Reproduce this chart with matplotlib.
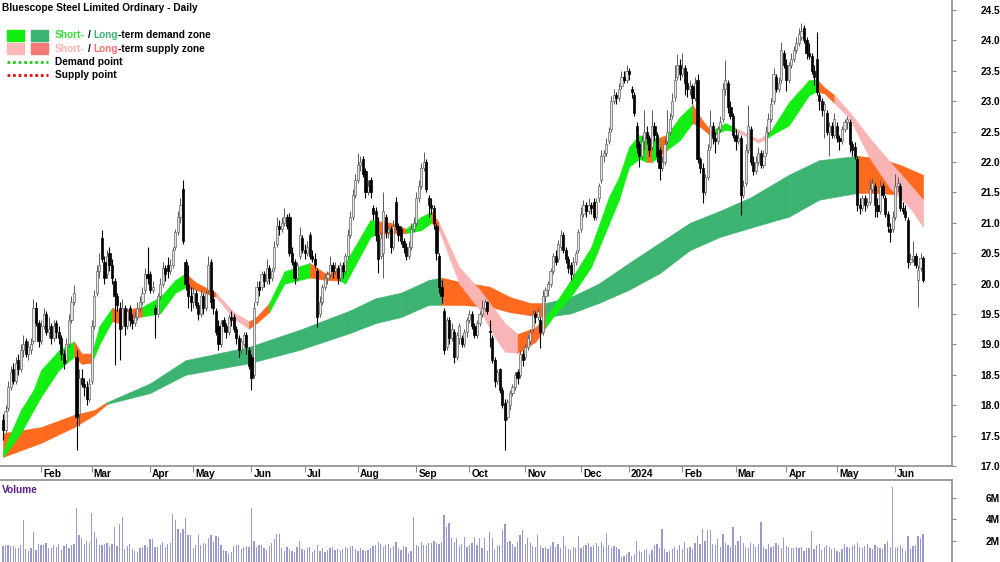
import numpy as np
import pandas as pd
import matplotlib
matplotlib.use("Agg")
import matplotlib.pyplot as plt
from matplotlib.patches import Rectangle
from matplotlib.lines import Line2D

plt.rcParams['font.family'] = ['Liberation Sans', 'DejaVu Sans']
plt.rcParams['font.weight'] = 'bold'

# ---- daily bars (A$), 10 Jan 2023 .. 19 Jun 2024 ----
opens = [
    17.75, 17.6, 17.95, 18.3, 18.6, 18.4, 18.75, 18.6, 18.9, 19.05,
    18.85, 18.9, 19.05, 19.6, 19.35, 19.05, 19.3, 19.5, 19.2, 19.3,
    19.1, 19.35, 19.2, 19.1, 18.85, 18.75, 19.0, 19.4, 19.7, 18.8,
    17.85, 18.45, 18.35, 18.3, 18.1, 18.4, 19.3, 19.85, 20.2, 20.75,
    20.35, 20.15, 20.5, 20.3, 20.05, 19.8, 19.6, 19.3, 19.6, 19.3,
    19.6, 19.4, 19.35, 19.45, 19.6, 19.7, 19.9, 20.15, 20.15, 19.9,
    19.6, 19.5, 19.8, 20.0, 20.25, 20.3, 20.2, 20.3, 20.6, 20.85,
    21.1, 21.55, 20.35, 20.0, 19.8, 19.7, 19.85, 19.65, 19.5, 19.8,
    19.6, 19.9, 20.35, 19.75, 19.55, 19.3, 19.0, 19.4, 19.3, 19.2,
    19.45, 19.45, 19.25, 19.1, 18.9, 19.0, 19.15, 18.9, 18.8, 18.5,
    19.7, 19.95, 19.95, 20.15, 20.05, 20.25, 20.1, 20.25, 20.65, 20.95,
    20.9, 21.0, 21.1, 21.1, 20.5, 20.35, 20.1, 20.45, 20.75, 20.55,
    20.5, 20.8, 20.45, 20.4, 20.2, 19.5, 19.7, 19.95, 20.1, 20.15,
    20.3, 20.2, 20.25, 20.1, 20.3, 20.2, 20.45, 20.8, 21.1, 21.45,
    21.7, 21.95, 22.05, 21.85, 21.5, 21.7, 21.25, 21.2, 20.8, 20.45,
    20.5, 21.1, 20.85, 20.9, 20.6, 21.35, 20.95, 20.9, 20.7, 20.6,
    20.45, 20.6, 20.9, 21.0, 21.4, 21.6, 21.9, 22.0, 21.4, 21.3,
    21.25, 20.95, 20.45, 19.95, 19.55, 18.95, 19.4, 19.1, 19.2, 18.8,
    19.1, 19.1, 19.0, 19.2, 19.4, 19.5, 19.3, 19.15, 19.35, 19.5,
    19.6, 19.7, 19.22, 19.1, 18.75, 18.4, 18.6, 18.25, 18.04, 17.8,
    18.0, 18.2, 18.3, 18.55, 18.5, 18.85, 18.8, 18.95, 19.05, 19.25,
    19.5, 19.45, 19.4, 19.2, 19.8, 19.9, 20.0, 20.2, 20.45, 20.4,
    20.6, 20.8, 20.55, 20.4, 20.3, 20.15, 20.35, 20.55, 20.9, 21.15,
    21.3, 21.2, 21.3, 21.35, 21.1, 21.4, 21.7, 22.1, 22.15, 22.35,
    22.55, 23.0, 23.1, 23.05, 23.25, 23.4, 23.35, 23.5, 23.2, 23.1,
    22.6, 22.3, 22.1, 22.35, 22.5, 22.4, 22.25, 22.6, 22.45, 22.2,
    21.9, 22.0, 22.35, 22.5, 22.75, 23.07, 23.4, 23.6, 23.45, 23.55,
    23.3, 23.2, 23.25, 23.05, 23.35, 22.05, 21.9, 21.5, 21.75, 22.25,
    22.6, 22.4, 22.35, 22.55, 22.7, 23.2, 23.3, 22.9, 22.75, 22.45,
    22.35, 22.4, 21.45, 21.65, 22.2, 22.55, 22.0, 21.85, 22.0, 22.15,
    21.95, 22.15, 22.5, 22.7, 23.0, 23.4, 23.2, 23.35, 23.8, 23.6,
    23.35, 23.6, 23.7, 23.85, 23.95, 24.05, 24.2, 24.0, 23.8, 23.75,
    23.5, 23.7, 23.1, 23.0, 22.85, 22.8, 22.5, 22.6, 22.45, 22.6,
    22.4, 22.35, 22.55, 22.65, 22.66, 22.3, 22.25, 22.05, 21.3, 21.25,
    21.4, 21.3, 21.35, 21.55, 21.6, 21.3, 21.2, 21.6, 21.4, 21.15,
    20.9, 20.9, 21.1, 21.6, 21.6, 21.25, 21.2, 21.05, 20.35, 20.4,
    20.45, 20.06, 20.25, 20.42,
]
highs = [
    17.85, 18.0, 18.4, 18.65, 18.7, 18.8, 18.85, 19.0, 19.15, 19.1,
    19.05, 19.1, 19.75, 19.7, 19.4, 19.4, 19.6, 19.55, 19.45, 19.35,
    19.4, 19.4, 19.3, 19.15, 18.9, 19.1, 19.5, 19.8, 19.97, 18.9,
    18.6, 18.6, 18.45, 18.4, 18.45, 19.4, 19.9, 20.3, 20.5, 20.88,
    20.45, 20.55, 20.6, 20.4, 20.1, 19.85, 19.7, 19.75, 19.65, 19.6,
    19.65, 19.5, 19.55, 19.7, 19.8, 19.95, 20.25, 20.6, 20.2, 20.05,
    19.65, 19.85, 20.1, 20.35, 20.3, 20.44, 20.4, 20.6, 20.9, 21.2,
    21.4, 21.7, 20.4, 20.3, 19.95, 19.95, 19.9, 19.7, 19.9, 19.85,
    19.9, 20.45, 20.4, 19.9, 19.6, 19.4, 19.4, 19.45, 19.35, 19.5,
    19.55, 19.5, 19.3, 19.15, 19.1, 19.2, 19.2, 18.95, 18.85, 19.7,
    20.05, 20.05, 20.2, 20.2, 20.4, 20.3, 20.25, 20.7, 21.1, 21.05,
    21.1, 21.25, 21.15, 21.16, 20.6, 20.4, 20.35, 20.93, 20.8, 20.65,
    20.7, 20.85, 20.55, 20.5, 20.25, 19.8, 20.0, 20.15, 20.2, 20.45,
    20.35, 20.35, 20.3, 20.35, 20.35, 20.5, 20.9, 21.2, 21.55, 21.8,
    22.15, 22.1, 22.1, 21.9, 21.7, 21.75, 21.3, 21.26, 21.1, 20.85,
    21.5, 21.15, 20.95, 20.95, 21.05, 21.42, 21.0, 20.95, 20.75, 20.67,
    20.7, 21.0, 21.1, 21.5, 21.7, 21.98, 22.17, 22.05, 21.45, 21.4,
    21.3, 21.0, 20.5, 20.06, 19.6, 19.45, 19.45, 19.35, 19.25, 19.2,
    19.35, 19.15, 19.25, 19.45, 19.56, 19.55, 19.35, 19.4, 19.55, 19.73,
    19.75, 19.72, 19.4, 19.15, 18.8, 18.6, 18.62, 18.3, 18.1, 18.1,
    18.25, 18.35, 18.55, 18.6, 18.9, 18.9, 19.0, 19.15, 19.25, 19.56,
    19.55, 19.6, 19.45, 19.9, 19.95, 20.05, 20.25, 20.5, 20.55, 20.72,
    20.88, 20.85, 20.6, 20.45, 20.35, 20.44, 20.55, 20.9, 21.26, 21.38,
    21.35, 21.4, 21.35, 21.4, 21.4, 21.65, 22.2, 22.2, 22.4, 22.58,
    23.08, 23.2, 23.15, 23.3, 23.5, 23.5, 23.6, 23.55, 23.25, 23.15,
    22.65, 22.35, 22.45, 22.85, 22.6, 22.45, 22.85, 22.65, 22.5, 22.25,
    22.1, 22.4, 22.85, 22.8, 23.14, 23.6, 23.77, 23.7, 23.8, 23.6,
    23.5, 23.35, 23.28, 23.4, 23.45, 22.08, 21.98, 21.8, 22.3, 22.85,
    22.65, 22.5, 22.6, 22.75, 23.3, 23.68, 23.35, 23.0, 22.8, 22.55,
    22.5, 22.45, 21.7, 22.3, 22.94, 22.6, 22.1, 22.1, 22.25, 22.2,
    22.2, 22.6, 22.8, 23.05, 23.55, 23.45, 23.4, 23.98, 23.85, 23.7,
    23.65, 23.8, 23.9, 24.05, 24.2, 24.28, 24.25, 24.05, 23.95, 23.8,
    23.6, 24.14, 23.15, 23.05, 23.0, 22.85, 22.65, 22.65, 22.8, 22.65,
    22.45, 22.6, 22.7, 22.75, 22.7, 22.35, 22.33, 22.1, 21.4, 21.45,
    21.45, 21.4, 21.7, 21.74, 21.65, 21.4, 21.7, 21.65, 21.45, 21.2,
    21.0, 21.2, 21.8, 21.75, 21.65, 21.35, 21.3, 21.1, 20.5, 20.7,
    20.5, 20.3, 20.5, 20.45,
]
lows = [
    17.43, 17.55, 17.9, 18.25, 18.35, 18.35, 18.5, 18.55, 18.8, 18.8,
    18.75, 18.85, 19.0, 19.3, 18.95, 19.0, 19.25, 19.15, 19.1, 19.0,
    19.05, 19.1, 19.0, 18.75, 18.6, 18.7, 18.95, 19.35, 19.65, 17.26,
    17.65, 18.3, 18.15, 18.0, 18.05, 18.35, 19.25, 19.8, 20.1, 20.35,
    20.0, 20.1, 20.2, 20.0, 18.66, 19.55, 18.75, 19.25, 19.15, 19.25,
    19.3, 19.25, 19.3, 19.4, 19.55, 19.65, 19.85, 20.0, 19.85, 19.85,
    19.1, 19.45, 19.75, 19.95, 20.05, 20.1, 20.15, 20.25, 20.55, 20.8,
    21.0, 20.65, 19.9, 19.6, 19.55, 19.6, 19.6, 19.4, 19.45, 19.5,
    19.55, 19.85, 19.6, 19.5, 19.15, 18.9, 18.95, 19.2, 19.1, 19.15,
    19.3, 19.2, 19.0, 18.8, 18.85, 18.95, 18.85, 18.6, 18.25, 18.45,
    19.65, 19.8, 19.9, 19.95, 20.0, 20.0, 20.05, 20.2, 20.6, 20.8,
    20.85, 20.95, 20.9, 20.45, 20.3, 20.0, 20.05, 20.4, 20.5, 20.4,
    20.45, 20.4, 20.35, 20.25, 19.28, 19.45, 19.65, 19.9, 20.0, 20.1,
    20.1, 20.15, 20.0, 20.05, 20.1, 20.15, 20.4, 20.75, 21.05, 21.4,
    21.65, 21.85, 21.75, 21.4, 21.45, 21.4, 21.05, 20.7, 20.17, 20.4,
    20.1, 20.75, 20.75, 20.5, 20.55, 20.88, 20.7, 20.65, 20.5, 20.39,
    20.4, 20.55, 20.85, 20.95, 21.35, 21.55, 21.85, 21.5, 21.1, 21.15,
    20.9, 20.39, 19.85, 19.68, 18.85, 18.9, 19.0, 19.05, 18.7, 18.75,
    19.0, 18.95, 18.95, 19.12, 19.35, 19.25, 19.1, 19.1, 19.3, 19.45,
    19.55, 19.5, 18.95, 18.7, 18.3, 18.35, 18.2, 17.95, 17.26, 17.75,
    17.92, 18.15, 18.25, 18.35, 18.45, 18.65, 18.75, 18.9, 19.0, 19.2,
    19.35, 19.4, 18.94, 19.15, 19.7, 19.8, 19.95, 20.15, 20.3, 20.35,
    20.55, 20.5, 20.34, 20.17, 20.06, 20.1, 20.3, 20.5, 20.85, 21.1,
    21.1, 21.15, 21.15, 21.05, 21.05, 21.35, 21.65, 22.0, 22.1, 22.3,
    22.5, 22.95, 22.95, 23.0, 23.2, 23.3, 23.3, 23.35, 23.05, 22.75,
    22.15, 21.92, 22.05, 22.2, 22.3, 22.1, 22.2, 22.35, 22.0, 21.7,
    21.85, 21.95, 22.3, 22.45, 22.7, 23.0, 23.35, 23.35, 23.4, 23.1,
    23.07, 23.1, 22.95, 23.0, 21.98, 21.82, 21.32, 21.45, 21.7, 22.2,
    22.3, 22.15, 22.3, 22.5, 22.65, 23.1, 22.8, 22.7, 22.4, 22.2,
    22.3, 21.13, 21.4, 21.6, 22.15, 21.95, 21.79, 21.8, 21.95, 21.9,
    21.9, 22.1, 22.45, 22.65, 22.95, 23.15, 23.15, 23.3, 23.55, 23.16,
    23.3, 23.55, 23.65, 23.8, 23.9, 24.0, 23.95, 23.7, 23.7, 23.45,
    23.27, 23.1, 22.85, 22.75, 22.4, 22.45, 22.1, 22.4, 22.4, 22.33,
    22.2, 22.3, 22.5, 22.55, 22.17, 22.1, 22.05, 21.2, 21.15, 21.2,
    21.2, 21.25, 21.3, 21.5, 21.1, 21.1, 21.15, 21.4, 21.1, 20.85,
    20.68, 20.85, 21.05, 21.5, 21.2, 21.15, 21.05, 20.26, 20.3, 20.35,
    20.25, 19.62, 20.2, 20.02,
]
closes = [
    17.6, 17.9, 18.3, 18.55, 18.4, 18.7, 18.6, 18.9, 19.0, 18.85,
    18.95, 19.0, 19.6, 19.35, 19.05, 19.3, 19.5, 19.2, 19.25, 19.1,
    19.3, 19.2, 19.1, 18.85, 18.7, 19.0, 19.4, 19.7, 19.85, 17.8,
    18.45, 18.35, 18.3, 18.1, 18.35, 19.3, 19.8, 20.2, 20.3, 20.4,
    20.1, 20.45, 20.3, 20.1, 19.8, 19.65, 19.25, 19.6, 19.3, 19.55,
    19.4, 19.35, 19.45, 19.6, 19.7, 19.85, 20.15, 20.1, 19.9, 19.95,
    19.5, 19.8, 20.0, 20.25, 20.15, 20.2, 20.3, 20.55, 20.85, 21.1,
    21.3, 20.7, 20.0, 19.8, 19.7, 19.85, 19.65, 19.5, 19.8, 19.6,
    19.85, 20.3, 19.7, 19.6, 19.2, 19.0, 19.35, 19.3, 19.2, 19.45,
    19.4, 19.25, 19.1, 18.9, 19.05, 19.15, 18.95, 18.65, 18.45, 19.6,
    19.95, 19.9, 20.15, 20.05, 20.25, 20.1, 20.2, 20.6, 20.95, 20.9,
    21.0, 21.1, 20.95, 20.5, 20.35, 20.1, 20.3, 20.8, 20.55, 20.5,
    20.6, 20.45, 20.4, 20.3, 19.45, 19.7, 19.95, 20.1, 20.15, 20.3,
    20.2, 20.25, 20.1, 20.3, 20.2, 20.45, 20.8, 21.1, 21.45, 21.7,
    21.95, 22.0, 21.8, 21.5, 21.6, 21.5, 21.15, 20.8, 20.4, 20.75,
    21.2, 20.85, 20.9, 20.6, 20.95, 20.95, 20.8, 20.7, 20.6, 20.45,
    20.6, 20.9, 21.0, 21.4, 21.6, 21.9, 22.0, 21.55, 21.3, 21.25,
    21.0, 20.5, 19.95, 19.8, 18.9, 19.4, 19.1, 19.25, 18.8, 19.15,
    19.3, 19.0, 19.2, 19.4, 19.5, 19.3, 19.15, 19.35, 19.5, 19.6,
    19.7, 19.55, 19.2, 18.75, 18.4, 18.55, 18.25, 18.0, 17.75, 18.05,
    18.2, 18.3, 18.5, 18.45, 18.85, 18.75, 18.95, 19.1, 19.2, 19.5,
    19.45, 19.55, 19.2, 19.8, 19.9, 20.0, 20.2, 20.45, 20.35, 20.65,
    20.8, 20.55, 20.4, 20.25, 20.15, 20.35, 20.5, 20.85, 21.15, 21.3,
    21.2, 21.3, 21.25, 21.1, 21.35, 21.6, 22.1, 22.15, 22.3, 22.5,
    23.0, 23.1, 23.05, 23.2, 23.4, 23.35, 23.5, 23.45, 23.15, 22.8,
    22.25, 22.1, 22.35, 22.5, 22.4, 22.2, 22.6, 22.45, 22.1, 21.9,
    22.0, 22.3, 22.5, 22.7, 23.0, 23.35, 23.6, 23.45, 23.55, 23.3,
    23.2, 23.25, 23.05, 23.3, 22.05, 21.9, 21.5, 21.75, 22.2, 22.6,
    22.4, 22.35, 22.55, 22.65, 23.2, 23.35, 22.9, 22.75, 22.45, 22.35,
    22.4, 21.45, 21.6, 22.2, 22.6, 22.0, 21.85, 22.0, 22.15, 21.95,
    22.1, 22.5, 22.7, 22.95, 23.45, 23.2, 23.3, 23.85, 23.6, 23.35,
    23.6, 23.7, 23.85, 23.95, 24.1, 24.15, 24.0, 23.8, 23.75, 23.5,
    23.4, 23.15, 23.0, 22.85, 22.95, 22.5, 22.6, 22.45, 22.7, 22.4,
    22.35, 22.55, 22.65, 22.7, 22.3, 22.2, 22.1, 21.3, 21.25, 21.4,
    21.3, 21.35, 21.55, 21.65, 21.3, 21.2, 21.6, 21.45, 21.15, 20.95,
    20.85, 21.1, 21.6, 21.65, 21.25, 21.2, 21.1, 20.35, 20.4, 20.45,
    20.3, 20.22, 20.42, 20.06,
]
# volume in millions of shares
volumes = [
    1.5, 1.6, 1.6, 1.5, 1.5, 1.3, 1.3, 1.6, 3.9, 1.2,
    1.0, 1.3, 2.8, 1.1, 1.7, 1.6, 1.6, 1.8, 1.3, 1.3,
    1.6, 1.4, 1.7, 1.1, 1.5, 1.7, 1.3, 1.6, 1.7, 5.0,
    2.5, 2.2, 1.7, 2.0, 1.8, 4.6, 2.8, 2.2, 1.6, 1.6,
    1.7, 1.8, 1.5, 1.7, 3.3, 1.5, 3.5, 4.2, 1.2, 1.5,
    1.7, 1.2, 1.0, 0.9, 1.3, 1.4, 1.6, 1.4, 2.1, 2.1,
    1.4, 1.4, 1.6, 1.9, 1.4, 1.7, 1.8, 4.5, 3.9, 3.1,
    2.7, 3.1, 4.1, 2.5, 2.5, 1.3, 1.6, 2.5, 1.6, 1.8,
    1.7, 2.2, 2.5, 1.9, 2.4, 2.3, 1.6, 1.1, 1.0, 0.7,
    0.9, 1.5, 1.6, 1.6, 1.2, 1.4, 1.5, 1.4, 5.0, 2.0,
    1.4, 1.6, 1.6, 1.3, 1.1, 1.5, 1.8, 2.1, 2.6, 2.6,
    1.3, 1.0, 1.4, 1.2, 1.0, 0.9, 1.4, 2.0, 1.2, 1.1,
    1.3, 1.4, 0.9, 1.1, 1.6, 1.0, 1.3, 0.9, 1.1, 1.3,
    1.4, 1.1, 1.2, 1.0, 1.2, 1.4, 1.3, 1.5, 1.5, 1.2,
    1.0, 1.3, 1.1, 1.0, 1.1, 1.3, 1.5, 1.6, 1.9, 1.7,
    1.4, 1.6, 1.7, 1.3, 1.5, 1.9, 1.3, 1.1, 1.5, 1.4,
    0.8, 1.0, 4.2, 1.6, 1.5, 1.9, 1.6, 1.6, 1.8, 1.8,
    2.0, 1.8, 1.7, 1.9, 4.4, 3.3, 3.6, 2.2, 1.9, 2.2,
    1.5, 1.7, 2.3, 1.4, 1.6, 1.8, 2.3, 1.6, 2.2, 1.3,
    2.2, 1.0, 2.8, 2.2, 1.2, 1.5, 1.6, 3.0, 3.55, 1.9,
    2.0, 1.7, 1.4, 1.9, 2.5, 3.0, 1.7, 2.2, 1.8, 1.5,
    1.4, 2.5, 1.5, 1.3, 1.4, 1.2, 1.5, 1.9, 1.4, 1.7,
    1.3, 2.4, 1.5, 1.2, 1.1, 1.4, 1.3, 2.4, 1.3, 1.5,
    1.6, 1.8, 1.4, 1.6, 1.8, 1.5, 1.9, 1.5, 2.7, 1.6,
    1.3, 1.5, 1.4, 1.2, 0.5, 0.6, 0.7, 0.9, 0.6, 0.7,
    2.0, 1.0, 0.9, 1.1, 1.2, 0.7, 1.1, 1.6, 1.7, 1.3,
    3.1, 1.2, 0.9, 1.0, 1.2, 1.4, 1.1, 1.6, 1.2, 1.9,
    1.3, 1.4, 1.2, 1.8, 2.4, 1.7, 3.1, 2.0, 3.0, 3.0,
    1.7, 1.6, 2.1, 1.4, 2.6, 1.8, 1.6, 1.4, 3.3, 1.6,
    2.0, 2.4, 1.8, 1.4, 1.3, 1.8, 1.7, 1.4, 1.7, 3.75,
    1.4, 1.2, 1.7, 1.4, 1.5, 1.8, 1.6, 1.3, 2.2, 1.5,
    1.4, 1.3, 1.3, 1.4, 1.3, 1.4, 1.0, 1.3, 1.3, 2.9,
    1.2, 1.6, 1.7, 1.1, 1.4, 1.6, 1.4, 1.2, 1.3, 1.0,
    0.9, 1.2, 1.7, 1.4, 1.3, 1.5, 1.6, 1.8, 1.4, 1.3,
    1.5, 1.7, 1.3, 1.2, 1.6, 1.4, 1.3, 1.2, 1.7, 2.0,
    1.4, 7.0, 1.3, 1.4, 1.6, 1.3, 1.0, 2.4, 1.2, 1.5,
    1.6, 2.4, 2.2, 2.6,
]

# ---- short-term zone: edges at bar positions, state of the stretch that follows ----
short_idx = [0, 7, 12, 15, 22, 28, 31, 35, 38, 43, 46, 53, 55, 62, 68, 72, 76, 84, 91, 97,
             100, 105, 111, 121, 127, 133, 135, 145, 147, 153, 159, 165, 169, 172, 180, 188,
             194, 198, 203, 210, 214, 217, 224, 232, 239, 243, 247, 251, 254, 256, 259, 262,
             267, 272, 275, 279, 281, 285, 289, 291, 298, 301, 303, 310, 318, 321, 324, 328,
             334, 342, 350, 358, 363]
short_top = [17.25, 17.92, 18.25, 18.58, 18.9, 19.05, 18.85, 18.85, 19.3, 19.6,
             19.56, 19.6, 19.62, 19.78, 20.06, 20.17, 20.02, 19.85, 19.53, 19.38,
             19.45, 19.68, 20.2, 20.34, 20.17, 20.25, 20.34, 21.05, 21.03, 21.0,
             20.9, 21.1, 21.18, 21.0, 20.27, 19.9, 19.57, 19.35, 19.17, 19.28,
             19.45, 19.62, 20.06, 20.6, 21.42, 21.75, 22.25, 22.44, 22.4, 22.38,
             22.4, 22.45, 22.74, 22.94, 22.74, 22.52, 22.55, 22.64, 22.56, 22.52,
             22.37, 22.45, 22.52, 22.98, 23.35, 23.36, 23.23, 23.1, 22.82, 22.39,
             22.0, 21.62, 21.38]
short_bot = [17.15, 17.54, 17.92, 18.14, 18.58, 18.8, 18.68, 18.7, 19.0, 19.38,
             19.35, 19.45, 19.46, 19.51, 19.85, 19.94, 19.9, 19.78, 19.43, 19.26,
             19.35, 19.53, 20.0, 20.1, 20.06, 20.05, 20.0, 20.77, 20.8, 20.83,
             20.83, 20.88, 21.0, 20.88, 20.0, 19.57, 19.12, 18.88, 18.86, 19.04,
             19.28, 19.45, 19.78, 20.27, 20.98, 21.38, 21.92, 22.05, 22.0, 22.0,
             22.1, 22.2, 22.36, 22.64, 22.58, 22.44, 22.46, 22.53, 22.5, 22.47,
             22.32, 22.38, 22.44, 22.6, 23.1, 23.16, 23.13, 22.97, 22.72, 22.06,
             21.57, 21.24, 20.93]
short_state = "DDDDDTTDDTTTDDDTTSSTTDDTTDDDTTDDTSSSSSTTDDDDDDDDTDTDDTTTDDSSSDDDDTTSSSSSS"

# ---- long-term zone ----
long_idx = [0, 15, 28, 36, 41, 58, 72, 97, 117, 137, 147, 157, 168, 173, 180, 192,
            200, 208, 214, 224, 235, 247, 259, 271, 283, 295, 310, 322, 337, 346, 354, 363]
long_top = [17.54, 17.64, 17.84, 17.92, 18.05, 18.36, 18.74, 18.96, 19.24, 19.56,
            19.76, 19.85, 20.06, 20.1, 20.03, 19.95, 19.78, 19.68, 19.68, 19.78,
            20.0, 20.34, 20.67, 21.0, 21.2, 21.42, 21.79, 22.03, 22.1, 22.06, 21.95, 21.79]
long_bot = [17.15, 17.38, 17.64, 17.84, 18.02, 18.2, 18.5, 18.69, 18.91, 19.19,
            19.35, 19.45, 19.65, 19.65, 19.65, 19.62, 19.53, 19.48, 19.45, 19.51,
            19.68, 19.9, 20.17, 20.55, 20.77, 20.92, 21.1, 21.38, 21.49, 21.49, 21.46, 21.39]
long_state = "SSSSDDDDDDDDDSSSSSDDDDDDDDDDSSSS"

asx_holidays = ['2023-01-26', '2023-04-07', '2023-04-10', '2023-04-25', '2023-06-12',
                '2023-12-25', '2023-12-26', '2024-01-01', '2024-01-26', '2024-03-29',
                '2024-04-01', '2024-04-25', '2024-06-10']

n = len(closes)
dates = pd.bdate_range('2023-01-10', periods=n, freq='C', holidays=asx_holidays)
idx = np.arange(n)

LIME = '#12ee12'
DKGREEN = '#3cb371'
ORANGE = '#ff6a1f'
PINK = '#f9b5b5'
GREY = '#8c8c8c'
FS = 7.3

fig = plt.figure(figsize=(10, 5.62), dpi=100)
ax = fig.add_axes([0, 96 / 562, 0.952, 466 / 562])
vax = fig.add_axes([0, 0, 0.952, 82 / 562])


def draw_band(knots, top, bot, states, cols, z):
    for k in range(len(knots) - 1):
        col = cols[states[k]]
        ax.fill_between(knots[k:k + 2], bot[k:k + 2], top[k:k + 2],
                        color=col, lw=0.4, zorder=z)


draw_band(long_idx, long_top, long_bot, long_state, {'D': DKGREEN, 'S': ORANGE}, 1)
draw_band(short_idx, short_top, short_bot, short_state, {'D': LIME, 'T': ORANGE, 'S': PINK}, 2)

o = np.array(opens)
c = np.array(closes)
hi = np.array(highs)
lo = np.array(lows)
up = c >= o
body_lo = np.minimum(o, c)
body_h = np.maximum(np.abs(c - o), 0.02)

ax.vlines(idx[up], lo[up], hi[up], color='#5a5a5a', lw=0.7, zorder=3)
ax.vlines(idx[~up], lo[~up], hi[~up], color='black', lw=0.8, zorder=3)
ax.bar(idx[up], body_h[up], bottom=body_lo[up], width=0.85, facecolor='#e4e4e4',
       edgecolor='#666666', lw=0.5, zorder=4)
ax.bar(idx[~up], body_h[~up], bottom=body_lo[~up], width=0.85, facecolor='black',
       edgecolor='black', lw=0.5, zorder=4)

x0, x1 = -1.2, 374.4
ax.set_xlim(x0, x1)
ax.set_ylim(17.0, 17.0 + 466 / 60.8)
for s in ['top', 'left']:
    ax.spines[s].set_visible(False)
for s in ['right', 'bottom']:
    ax.spines[s].set_color(GREY)
    ax.spines[s].set_linewidth(1.2)

yt = np.arange(17.0, 24.51, 0.5)
ax.yaxis.tick_right()
ax.set_yticks(yt)
ax.set_yticklabels(['%.1f' % v for v in yt])
ax.tick_params(axis='y', length=3, color=GREY, pad=31.5, labelsize=FS)
for t in ax.get_yticklabels():
    t.set_horizontalalignment('right')

# month ticks at first trading day of each month
pos = pd.Series(idx, index=dates)
firsts = pos.groupby([dates.year, dates.month]).first()
mticks, mlabels = [], []
for (yr, mo), i in firsts.items():
    if i == 0:
        continue
    mticks.append(i)
    mlabels.append(str(yr) if mo == 1 else dates[i].strftime('%b'))
ax.set_xticks(mticks)
ax.set_xticklabels([])
ax.tick_params(axis='x', length=4, color=GREY, direction='out')
for i, lab in zip(mticks, mlabels):
    ax.text(i + 0.8, -8 / 466, lab, transform=ax.get_xaxis_transform(),
            ha='left', va='center', fontsize=FS)

# volume panel
vax.bar(idx, volumes, width=0.5, color='#9999cc', lw=0)
vax.set_xlim(x0, x1)
vax.set_ylim(0, 7.64)
vax.spines['left'].set_visible(False)
vax.spines['bottom'].set_visible(False)
for s in ['top', 'right']:
    vax.spines[s].set_color(GREY)
    vax.spines[s].set_linewidth(1.2)
vax.set_xticks([])
vax.yaxis.tick_right()
vax.set_yticks([2, 4, 6])
vax.set_yticklabels(['2M', '4M', '6M'])
vax.tick_params(axis='y', length=3, color=GREY, pad=31.5, labelsize=FS)
for t in vax.get_yticklabels():
    t.set_horizontalalignment('right')


def fx(px):
    return px / 1000.0


def fy(py):
    return 1 - py / 562.0


fig.text(fx(2), fy(490), 'Volume', color='#5a1e8c', fontsize=FS, va='center')
fig.text(fx(2), fy(8), 'Bluescope Steel Limited Ordinary - Daily', fontsize=FS, va='center')

# legend
renderer = fig.canvas.get_renderer()


def colored_line(xpx, ypx, parts):
    x = fx(xpx)
    for txt, col, gap in parts:
        t = fig.text(x, fy(ypx), txt, color=col, fontsize=FS, va='center')
        w = t.get_window_extent(renderer=renderer).width
        x += (w + gap) / 1000.0


for ypx, c1, c2 in [(35.5, LIME, DKGREEN), (48.5, '#ffb6b6', '#f47a7a')]:
    fig.patches.append(Rectangle((fx(7), fy(ypx + 5.5)), 17 / 1000, 11 / 562,
                                 transform=fig.transFigure, color=c1))
    fig.patches.append(Rectangle((fx(31), fy(ypx + 5.5)), 17 / 1000, 11 / 562,
                                 transform=fig.transFigure, color=c2))

colored_line(55, 35.5, [('Short-', '#33dd33', 3), ('/', 'black', 3), ('Long', DKGREEN, 0),
                        ('-term demand zone', 'black', 0)])
colored_line(55, 48.5, [('Short-', '#ffb0b0', 3), ('/', 'black', 3), ('Long', '#ff6f6f', 0),
                        ('-term supply zone', 'black', 0)])

for ypx, col, lab in [(62, '#22cc22', 'Demand point'), (74.5, '#dd1111', 'Supply point')]:
    fig.lines.append(Line2D([fx(7), fx(48)], [fy(ypx), fy(ypx)], transform=fig.transFigure,
                            color=col, lw=2, linestyle=(0, (1, 1))))
    fig.text(fx(55), fy(ypx), lab, fontsize=FS, va='center')

fig.savefig('out.png', dpi=100)
